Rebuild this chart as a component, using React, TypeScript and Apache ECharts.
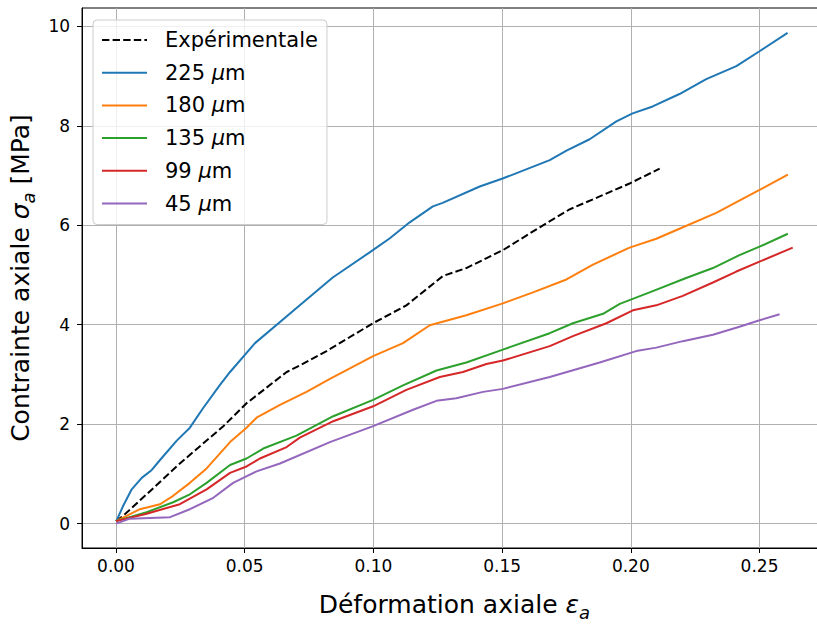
import React, { useEffect, useRef } from "react";
import * as echarts from "echarts";

// ---- Data ----
const seriesNames = ["Expérimentale", "225 μm", "180 μm", "135 μm", "99 μm", "45 μm"];

const expStrain = [0, 0.0028, 0.0119, 0.0248, 0.0417, 0.0507, 0.0663, 0.0714, 0.0818, 0.0998, 0.1128, 0.127, 0.1361, 0.1503, 0.1646, 0.1762, 0.1879, 0.1995, 0.2112];
const expStress = [0.05, 0.16, 0.59, 1.21, 1.96, 2.42, 3.05, 3.18, 3.47, 4.03, 4.39, 4.98, 5.14, 5.5, 5.96, 6.32, 6.58, 6.84, 7.14];

const s225Strain = [0, 0.0003, 0.0028, 0.0061, 0.01, 0.0139, 0.0171, 0.0236, 0.0287, 0.0338, 0.0404, 0.0443, 0.054, 0.0714, 0.0842, 0.0998, 0.1064, 0.1141, 0.1231, 0.1269, 0.1413, 0.1502, 0.1685, 0.175, 0.184, 0.1944, 0.2007, 0.2085, 0.2189, 0.2293, 0.241, 0.25, 0.2609];
const s225Stress = [0.05, 0.07, 0.36, 0.69, 0.92, 1.08, 1.28, 1.67, 1.93, 2.32, 2.79, 3.05, 3.63, 4.39, 4.95, 5.5, 5.74, 6.06, 6.38, 6.45, 6.78, 6.94, 7.31, 7.5, 7.73, 8.09, 8.25, 8.39, 8.64, 8.94, 9.2, 9.5, 9.87];

const s180Strain = [0, 0.0093, 0.0171, 0.0222, 0.0287, 0.0352, 0.0443, 0.0507, 0.0546, 0.0637, 0.074, 0.0831, 0.0999, 0.1115, 0.1219, 0.1361, 0.1503, 0.162, 0.175, 0.1853, 0.1995, 0.2099, 0.2189, 0.2332, 0.25, 0.261];
const s180Stress = [0.05, 0.29, 0.39, 0.56, 0.82, 1.11, 1.64, 1.93, 2.13, 2.39, 2.65, 2.91, 3.37, 3.63, 3.99, 4.19, 4.43, 4.65, 4.91, 5.21, 5.55, 5.73, 5.93, 6.25, 6.71, 7.02];

const s135Strain = [0, 0.0119, 0.0222, 0.0287, 0.0352, 0.0443, 0.0507, 0.0572, 0.0701, 0.0844, 0.0999, 0.1115, 0.1245, 0.1361, 0.1503, 0.1685, 0.1775, 0.1892, 0.1957, 0.2073, 0.2215, 0.2319, 0.2422, 0.25, 0.261];
const s135Stress = [0.05, 0.23, 0.43, 0.59, 0.82, 1.18, 1.31, 1.51, 1.77, 2.16, 2.49, 2.78, 3.08, 3.24, 3.5, 3.83, 4.03, 4.22, 4.42, 4.65, 4.94, 5.14, 5.4, 5.57, 5.83];

const s99Strain = [0, 0.0119, 0.0248, 0.0352, 0.0443, 0.0507, 0.0559, 0.0663, 0.0714, 0.0844, 0.0999, 0.1128, 0.1258, 0.1348, 0.1439, 0.1503, 0.1685, 0.1775, 0.1905, 0.2008, 0.2099, 0.2202, 0.2319, 0.241, 0.25, 0.2629];
const s99Stress = [0.05, 0.2, 0.39, 0.69, 1.02, 1.15, 1.31, 1.54, 1.73, 2.06, 2.36, 2.69, 2.95, 3.05, 3.21, 3.28, 3.57, 3.77, 4.03, 4.29, 4.39, 4.58, 4.85, 5.07, 5.27, 5.55];

const s45Strain = [0, 0.0054, 0.021, 0.0287, 0.0378, 0.0455, 0.0546, 0.0637, 0.0831, 0.0999, 0.1154, 0.1245, 0.1322, 0.1426, 0.1503, 0.1685, 0.1879, 0.2021, 0.2099, 0.2202, 0.2319, 0.2422, 0.25, 0.2578];
const s45Stress = [0.0, 0.1, 0.13, 0.29, 0.52, 0.82, 1.05, 1.21, 1.64, 1.96, 2.29, 2.47, 2.52, 2.65, 2.71, 2.95, 3.24, 3.47, 3.54, 3.67, 3.8, 3.96, 4.09, 4.21];

const xTicks = [0, 0.05, 0.1, 0.15, 0.2, 0.25];
const yTicks = [0, 2, 4, 6, 8, 10];

const colors = ["#000000", "#1f77b4", "#ff7f0e", "#2ca02c", "#d62728", "#9467bd"];

const zip = (a: number[], b: number[]) => a.map((v, i) => [v, b[i]]);

const FONT = "DejaVu Sans";
const CHART_W = 830;
const CHART_H = 626;

export default function App() {
  const ref = useRef<HTMLDivElement>(null);

  useEffect(() => {
    document.body.style.margin = "0";
    document.body.style.overflow = "hidden";
    document.documentElement.style.overflow = "hidden";
    if (!ref.current) return;
    const chart = echarts.init(ref.current, undefined, { renderer: "svg" });

    const datasets = [
      zip(expStrain, expStress),
      zip(s225Strain, s225Stress),
      zip(s180Strain, s180Stress),
      zip(s135Strain, s135Stress),
      zip(s99Strain, s99Stress),
      zip(s45Strain, s45Stress),
    ];

    const series = datasets.map((d, i) => ({
      type: "line",
      name: seriesNames[i],
      data: d,
      symbol: "none",
      showSymbol: false,
      smooth: false,
      lineStyle: {
        color: colors[i],
        width: 2,
        type: i === 0 ? [7.4, 3.2] : "solid",
      },
      itemStyle: { color: colors[i] },
      z: 2 + i,
    }));

    const richLegend = {
      g: { width: 13, fontSize: 21, lineHeight: 22 },
      t: { fontFamily: FONT, fontSize: 21, lineHeight: 22, color: "#000000" },
      mu: { fontFamily: FONT, fontSize: 21, lineHeight: 22, fontStyle: "italic", color: "#000000" },
    };

    const option: any = {
      animation: false,
      backgroundColor: "#ffffff",
      textStyle: { fontFamily: FONT },
      grid: {
        left: 82,
        top: 8,
        right: CHART_W - 826.7,
        bottom: CHART_H - 560.7,
        show: true,
        borderColor: "#000000",
        borderWidth: 1,
        containLabel: false,
      },
      legend: {
        show: true,
        orient: "vertical",
        left: 93,
        top: 20,
        itemWidth: 45,
        itemHeight: 14,
        itemGap: 10.7,
        padding: [9, 9, 10, 8],
        backgroundColor: "rgba(255,255,255,0.8)",
        borderColor: "#cccccc",
        borderWidth: 1,
        borderRadius: 4,
        z: 20,
        itemStyle: { opacity: 0 },
        data: seriesNames,
        formatter: (name: string) => {
          const m = name.match(/^(\d+) μm$/);
          if (m) return `{g|\u00a0}{t|${m[1]} }{mu|μ}{t|m}`;
          return `{g|\u00a0}{t|${name}}`;
        },
        textStyle: {
          fontFamily: FONT,
          fontSize: 21,
          lineHeight: 22,
          color: "#000000",
          rich: richLegend,
        },
      },
      xAxis: {
        type: "value",
        min: -0.0132,
        max: 0.2761,
        name: "{n|Déformation axiale }{e|ε}{s|a}",
        nameLocation: "middle",
        nameGap: 39,
        nameTextStyle: {
          rich: {
            n: { fontFamily: FONT, fontSize: 25, color: "#000", lineHeight: 34, verticalAlign: "middle" },
            e: { fontFamily: FONT, fontSize: 25, fontStyle: "italic", color: "#000", lineHeight: 34, verticalAlign: "middle" },
            s: { fontFamily: FONT, fontSize: 18, fontStyle: "italic", color: "#000", lineHeight: 18, verticalAlign: "bottom" },
          },
        },
        axisLine: { show: true, onZero: false, lineStyle: { color: "#000", width: 1 } },
        axisTick: {
          show: true,
          inside: false,
          length: 5,
          lineStyle: { color: "#000", width: 1 },
          customValues: xTicks,
        },
        axisLabel: {
          show: true,
          margin: 9,
          fontFamily: FONT,
          fontSize: 17,
          color: "#000",
          customValues: xTicks,
          formatter: (v: number) => v.toFixed(2),
        },
        splitLine: { show: true, lineStyle: { color: "#b0b0b0", width: 1 } },
      },
      yAxis: {
        type: "value",
        min: -0.49,
        max: 10.37,
        name: "{n|Contrainte axiale }{e|σ}{s|a}{n| [MPa]}",
        nameLocation: "middle",
        nameRotate: 90,
        nameGap: 42,
        nameTextStyle: {
          rich: {
            n: { fontFamily: FONT, fontSize: 25, color: "#000", lineHeight: 34, verticalAlign: "middle" },
            e: { fontFamily: FONT, fontSize: 25, fontStyle: "italic", color: "#000", lineHeight: 34, verticalAlign: "middle" },
            s: { fontFamily: FONT, fontSize: 18, fontStyle: "italic", color: "#000", lineHeight: 18, verticalAlign: "bottom" },
          },
        },
        axisLine: { show: true, onZero: false, lineStyle: { color: "#000", width: 1 } },
        axisTick: {
          show: true,
          inside: false,
          length: 5,
          lineStyle: { color: "#000", width: 1 },
          customValues: yTicks,
        },
        axisLabel: {
          show: true,
          margin: 12,
          fontFamily: FONT,
          fontSize: 17,
          color: "#000",
          customValues: yTicks,
          formatter: (v: number) => String(Math.round(v)),
        },
        splitLine: { show: true, lineStyle: { color: "#b0b0b0", width: 1 } },
      },
      series,
    };

    chart.setOption(option);
    return () => {
      chart.dispose();
    };
  }, []);

  return (
    <div
      style={{
        position: "fixed",
        left: 0,
        top: 0,
        width: 817,
        height: 626,
        overflow: "hidden",
        background: "#fff",
      }}
    >
      <div ref={ref} style={{ width: CHART_W, height: CHART_H }} />
    </div>
  );
}
